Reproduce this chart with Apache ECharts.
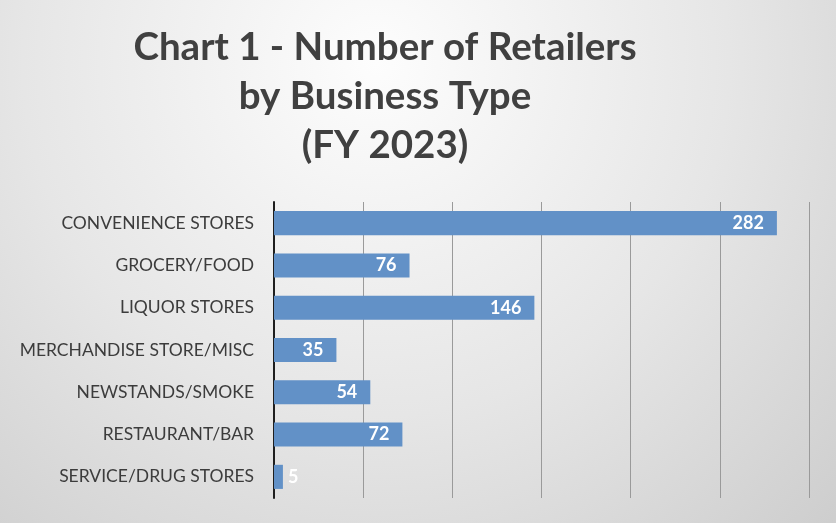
<!DOCTYPE html>
<html>
<head>
<meta charset="utf-8">
<script src="https://cdn.jsdelivr.net/npm/echarts@6/dist/echarts.min.js"></script>
<style>
  html, body { margin: 0; padding: 0; background: #fff; }
  #chart { width: 836px; height: 523px; }
</style>
</head>
<body>
<div id="chart"></div>
<script>
  // business types, top to bottom
  const categories = [
    'CONVENIENCE STORES',
    'GROCERY/FOOD',
    'LIQUOR STORES',
    'MERCHANDISE STORE/MISC',
    'NEWSTANDS/SMOKE',
    'RESTAURANT/BAR',
    'SERVICE/DRUG STORES'
  ]
  const retailers = [282, 76, 146, 35, 54, 72, 5]
  const titleLines = ['Chart 1 - Number of Retailers', 'by Business Type', '(FY 2023)']

  const chart = echarts.init(document.getElementById('chart'))

  const barData = retailers.map(v => {
    // tiny bars can't hold their label, push it outside
    if (v < 15) {
      return { value: v, label: { position: 'right', distance: 5 } }
    }
    return v
  })

  chart.setOption({
    backgroundColor: {
      type: 'radial',
      x: 0.45,
      y: 0.12,
      r: 1.35,
      colorStops: [
        { offset: 0, color: '#fdfdfd' },
        { offset: 0.5, color: '#e6e6e6' },
        { offset: 1, color: '#c9c9c9' }
      ]
    },
    title: {
      text: titleLines.join('\n'),
      left: 380,
      textAlign: 'center',
      top: 18,
      textStyle: {
        fontFamily: 'Lato',
        fontWeight: 'bold',
        fontSize: 38.5,
        lineHeight: 49,
        color: '#404040'
      }
    },
    grid: {
      left: 274,
      right: 27,
      top: 202,
      bottom: 25,
      containLabel: false
    },
    xAxis: {
      type: 'value',
      min: 0,
      max: 300,
      interval: 50,
      axisLabel: { show: false },
      axisLine: { show: false },
      axisTick: { show: false },
      splitLine: { lineStyle: { color: '#9a9a9a', width: 1 } }
    },
    yAxis: {
      type: 'category',
      inverse: true,
      data: categories,
      axisTick: { show: false },
      axisLine: { lineStyle: { color: '#1e1e1e', width: 2 } },
      axisLabel: {
        margin: 20,
        fontFamily: 'Lato',
        fontSize: 17.5,
        color: '#3c3c3c'
      }
    },
    series: [
      {
        type: 'bar',
        data: barData,
        barCategoryGap: '43%',
        itemStyle: { color: '#6291c7' },
        label: {
          show: true,
          position: 'insideRight',
          distance: 13,
          fontFamily: 'Lato',
          fontWeight: 'bold',
          fontSize: 18,
          color: '#ffffff'
        }
      }
    ]
  })
</script>
</body>
</html>
